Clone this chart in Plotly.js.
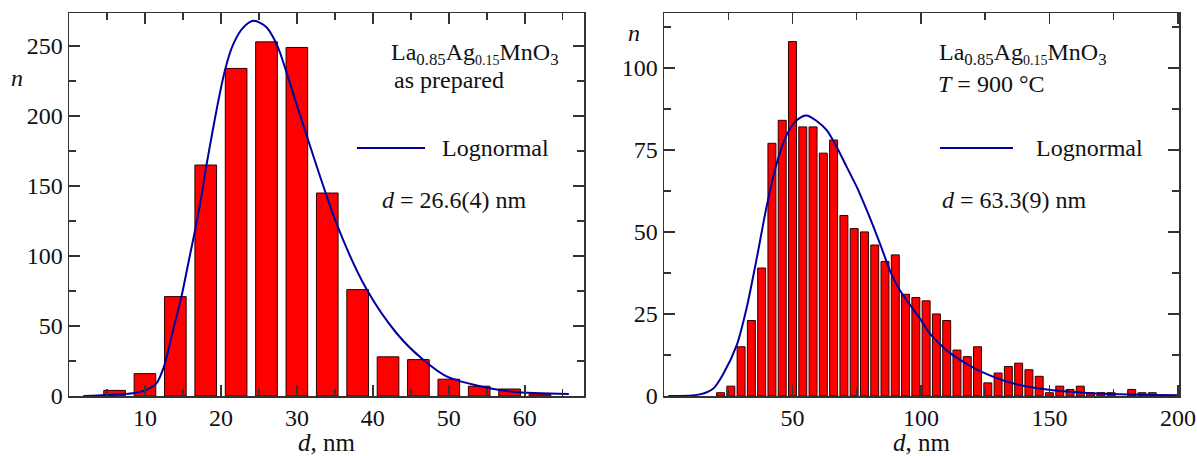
<!DOCTYPE html>
<html>
<head>
<meta charset="utf-8">
<script src="https://cdn.plot.ly/plotly-3.0.1.min.js"></script>
<style>html,body{margin:0;padding:0;background:#fff;}#chart{width:1197px;height:456px;}</style>
</head>
<body>
<div id="chart"></div>
<script>
// ---- Left panel: as prepared ----
const leftBinCenters = [6, 10, 14, 18, 22, 26, 30, 34, 38, 42, 46, 50, 54, 58, 62];
const leftCounts     = [4, 16, 71, 165, 234, 253, 249, 145, 76, 28, 26, 12, 7, 5, 1.5];
const leftFitD = [1.9, 8.4, 10, 11.5, 12.5, 13.7, 14.8, 15.9, 16.8, 17.6, 18.1, 20.5, 21.6, 22.9, 24.3, 26.0, 27.1, 27.8, 30.4, 35.3, 39.2, 43.1, 46.6, 49.7, 54.1, 58.5, 65.8];
const leftFitN = [0, 2, 4, 9, 21, 47, 71, 100, 124, 148, 165, 232, 251, 263, 268, 263.5, 254, 245, 201, 122, 76, 45, 26, 14, 7, 3, 1.4];
const leftXTicks = [10, 20, 30, 40, 50, 60];

// ---- Right panel: T = 900 °C ----
const rightBinCenters = [22, 26, 30, 34, 38, 42, 46, 50, 54, 58, 62, 66, 70, 74, 78, 82, 86, 90, 94, 98, 102, 106, 110, 114, 118, 122, 126, 130, 134, 138, 142, 146, 150, 154, 158, 162, 166, 170, 174, 182, 186, 190];
const rightCounts     = [1, 3, 15, 23, 39, 77, 84, 108, 82, 82, 74, 78, 55, 51, 50, 46, 41, 43, 31, 30, 29, 25, 23, 14, 12, 15, 4, 7, 9, 10, 8, 6, 1, 3, 2, 3, 1, 1, 1, 2, 1, 1];
const rightFitD = [1.7, 14, 19.2, 23.1, 28.3, 32.2, 36.1, 40, 43.9, 47.7, 51.6, 55.4, 59.4, 63.3, 67.2, 71.1, 75, 78.9, 84, 87.9, 91.8, 99.6, 103.5, 110, 116.5, 123, 136, 149, 161.9, 174.8, 200];
const rightFitN = [0, 0.5, 2.3, 6.8, 15.5, 27, 42, 58, 71, 79.5, 84, 85.5, 83.8, 81, 75.9, 69.8, 63.7, 56.6, 46.5, 38.3, 32.2, 23.6, 19, 13.9, 10.4, 7.6, 3.8, 2, 1.1, 0.6, 0.2];
const rightXTicks = [50, 100, 150, 200];

const W = 1197, H = 456;
const px = v => v / W;
const py = v => 1 - v / H;
const SERIF = 'Liberation Serif, Times New Roman, serif';
const barStyle = {color: '#ff0000', line: {color: 'rgb(45,0,0)', width: 1}};
const fitLine = {color: '#0000a0', width: 2, shape: 'spline', smoothing: 0.8};

const traces = [
  {type: 'bar', x: leftBinCenters, y: leftCounts, width: 2.85, marker: barStyle, xaxis: 'x', yaxis: 'y', showlegend: false},
  {type: 'scatter', mode: 'lines', x: leftFitD, y: leftFitN, line: fitLine, xaxis: 'x', yaxis: 'y', showlegend: false},
  {type: 'bar', x: rightBinCenters, y: rightCounts, width: 3.1, marker: barStyle, xaxis: 'x2', yaxis: 'y2', showlegend: false},
  {type: 'scatter', mode: 'lines', x: rightFitD, y: rightFitN, line: fitLine, xaxis: 'x2', yaxis: 'y2', showlegend: false}
];

const axBase = {
  showline: true, linecolor: '#333', linewidth: 1.5, mirror: 'ticks',
  ticks: 'inside', ticklen: 11, tickwidth: 1.5, tickcolor: '#333',
  showgrid: false, zeroline: false,
  tickfont: {family: SERIF, size: 24, color: '#111'}
};
const minorBase = {ticks: 'inside', ticklen: 7, tickwidth: 1.5, tickcolor: '#333', showgrid: false};

const yDom = [(H - 396) / H, (H - 13) / H];

const layout = {
  width: W, height: H,
  margin: {l: 0, r: 0, t: 0, b: 0},
  paper_bgcolor: '#fff', plot_bgcolor: '#fff',
  font: {family: SERIF, size: 24, color: '#111'},
  bargap: 0,
  xaxis: Object.assign({}, axBase, {domain: [px(69), px(584)], range: [0, 67.8], anchor: 'y',
    tickmode: 'array', tickvals: leftXTicks, ticktext: leftXTicks.map(String),
    minor: Object.assign({}, minorBase, {tickmode: 'linear', tick0: 0, dtick: 5}),
    title: {text: '<i>d</i>, nm', font: {family: SERIF, size: 25, color: '#111'}, standoff: 6}}),
  yaxis: Object.assign({}, axBase, {domain: yDom, range: [0, 273.6], anchor: 'x', dtick: 50, tick0: 0,
    minor: Object.assign({}, minorBase, {dtick: 25})}),
  xaxis2: Object.assign({}, axBase, {domain: [px(664), px(1179)], range: [0, 200.4], anchor: 'y2',
    tickmode: 'array', tickvals: rightXTicks, ticktext: rightXTicks.map(String),
    minor: Object.assign({}, minorBase, {tickmode: 'linear', tick0: 0, dtick: 25}),
    title: {text: '<i>d</i>, nm', font: {family: SERIF, size: 25, color: '#111'}, standoff: 6}}),
  yaxis2: Object.assign({}, axBase, {domain: yDom, range: [0, 116.7], anchor: 'x2', dtick: 25, tick0: 0,
    minor: Object.assign({}, minorBase, {dtick: 12.5})}),
  shapes: [
    {type: 'line', xref: 'paper', yref: 'paper', x0: px(357), x1: px(425), y0: py(148), y1: py(148), line: {color: '#0000a0', width: 2}},
    {type: 'line', xref: 'paper', yref: 'paper', x0: px(940), x1: px(1013), y0: py(148), y1: py(148), line: {color: '#0000a0', width: 2}}
  ],
  annotations: []
};

function note(text, x, y, anchor) {
  layout.annotations.push({text: text, xref: 'paper', yref: 'paper', x: px(x), y: py(y),
    xanchor: anchor || 'left', yanchor: 'middle', showarrow: false,
    font: {family: SERIF, size: 24, color: '#111'}});
}
const formula = 'La<sub>0.85</sub>Ag<sub><span style="font-size:14px">0.15</span></sub>MnO<sub>3</sub>';
note(formula, 389, 54);
note('as prepared', 392, 80);
note('Lognormal', 440, 148);
note('<i>d</i> = 26.6(4) nm', 380, 200);
note('<i>n</i>', 17, 78, 'center');

note(formula, 937, 54);
note('<i>T</i> = 900 °C', 936, 84);
note('Lognormal', 1034, 148);
note('<i>d</i> = 63.3(9) nm', 940, 200);
note('<i>n</i>', 634, 33, 'center');

Plotly.newPlot('chart', traces, layout, {displayModeBar: false, staticPlot: true});
</script>
</body>
</html>
